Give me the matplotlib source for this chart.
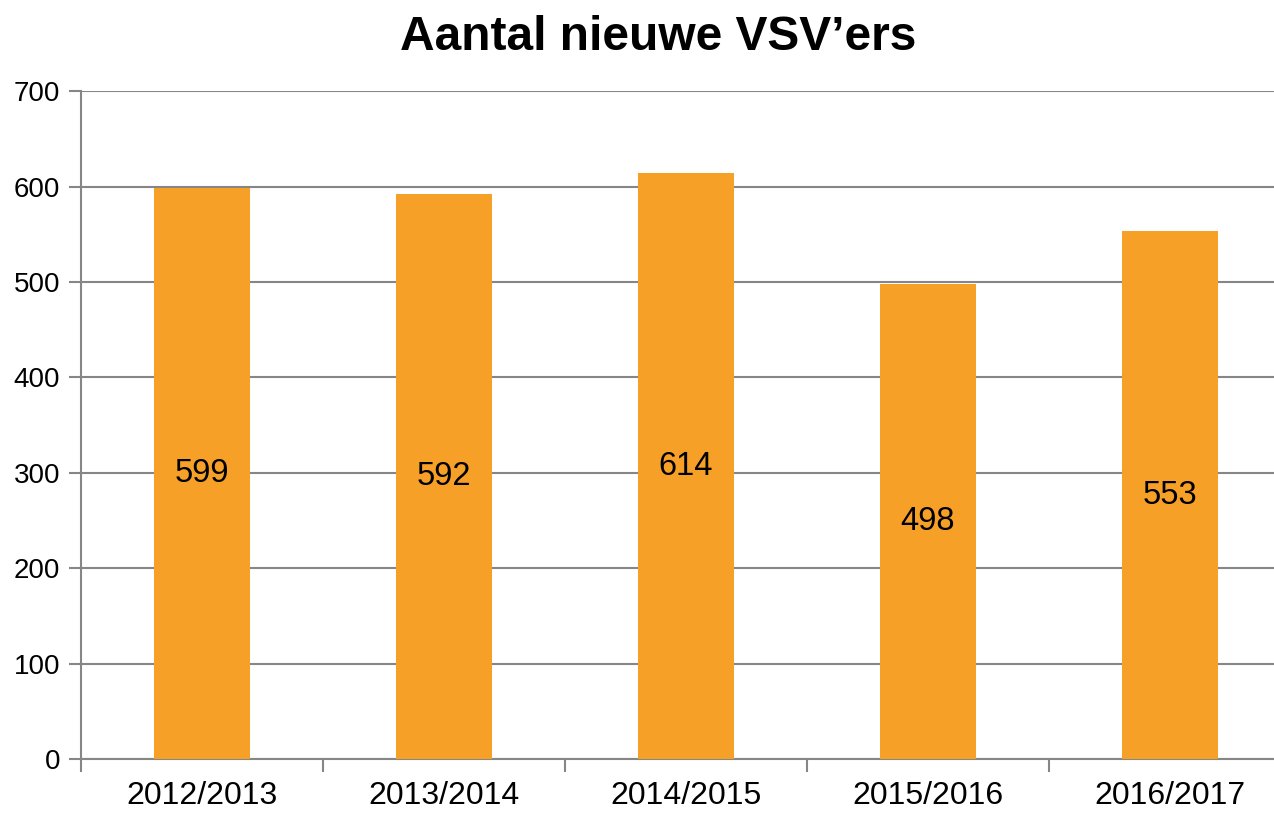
import matplotlib.pyplot as plt

# --- Données ---
years = ["2012/2013", "2013/2014", "2014/2015", "2015/2016", "2016/2017"]
new_vsv = [599, 592, 614, 498, 553]
y_ticks = [0, 100, 200, 300, 400, 500, 600, 700]

plt.rcParams["font.family"] = ["Liberation Sans", "DejaVu Sans"]

fig = plt.figure(figsize=(12.74, 8.14), dpi=100)
# l'axe dépasse à droite : la dernière catégorie est coupée comme dans l'original
ax = fig.add_axes([0.0636, 0.0676, 0.9497, 0.8204])

grid_col = "#868686"
bar_col = "#F7A028"

x = list(range(len(years)))
ax.bar(x, new_vsv, width=0.40, color=bar_col, zorder=3)

# Étiquettes au milieu des barres
for xi, v in zip(x, new_vsv):
    ax.text(xi, v / 2, str(v), ha="center", va="center", fontsize=23.5, zorder=4)

ax.set_xlim(-0.5, len(years) - 0.5)
ax.set_ylim(0, 700)
ax.set_yticks(y_ticks)
ax.yaxis.grid(True, color=grid_col, linewidth=1.5, zorder=0)

ax.set_xticks(x)
ax.set_xticklabels(years, fontsize=23)
ax.set_xticks([i - 0.5 for i in range(len(years))], minor=True)
ax.tick_params(axis="x", which="major", length=0, pad=16)
ax.tick_params(axis="x", which="minor", length=9, width=1.5, color=grid_col)
ax.tick_params(axis="y", length=9, width=1.5, color=grid_col, labelsize=20, pad=6)

for s in ["top", "right"]:
    ax.spines[s].set_visible(False)
for s in ["left", "bottom"]:
    ax.spines[s].set_color(grid_col)
    ax.spines[s].set_linewidth(1.5)

# titre centré sur la zone du graphique complet (non coupé)
fig.text(0.5165, 0.981, "Aantal nieuwe VSV’ers", fontsize=34.5, fontweight="bold",
         ha="center", va="top")

fig.savefig("out.png", dpi=100)
